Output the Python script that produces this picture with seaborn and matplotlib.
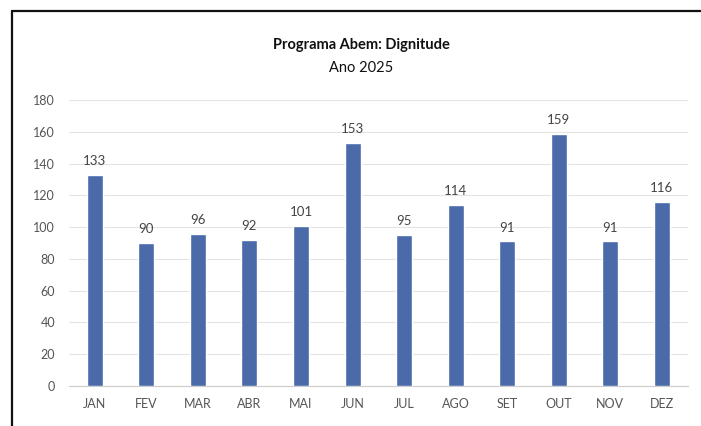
import matplotlib
matplotlib.use("Agg")
import matplotlib.pyplot as plt
import seaborn as sns
import pandas as pd
from matplotlib.lines import Line2D

# dados
meses = ['JAN', 'FEV', 'MAR', 'ABR', 'MAI', 'JUN', 'JUL', 'AGO', 'SET', 'OUT', 'NOV', 'DEZ']
valores = [133, 90, 96, 92, 101, 153, 95, 114, 91, 159, 91, 116]
y_ticks = [0, 20, 40, 60, 80, 100, 120, 140, 160, 180]

sns.set_theme(style='white')
plt.rcParams['font.family'] = ['Lato', 'DejaVu Sans']

df = pd.DataFrame({'mes': meses, 'valor': valores})

fig = plt.figure(figsize=(7.01, 4.26), dpi=100)
ax = fig.add_axes([0.0984, 0.0939, 0.8826, 0.671])

sns.barplot(data=df, x='mes', y='valor', color='#4a6aaa', width=0.31,
            saturation=1, ax=ax, zorder=3)

for i, v in enumerate(valores):
    ax.text(i, v + 5, str(v), ha='center', va='bottom', fontsize=9.5, color='#444444')

ax.set_ylim(0, 180)
ax.set_yticks(y_ticks)
ax.set_xlim(-0.5, len(meses) - 0.5)
ax.yaxis.grid(True, color='#e4e4e4', linewidth=0.8, zorder=0)
ax.set_xlabel('')
ax.set_ylabel('')
ax.tick_params(axis='both', length=0, labelsize=9, labelcolor='#555555')
ax.tick_params(axis='x', pad=9)
ax.tick_params(axis='y', pad=10)
for lado in ['top', 'right', 'left']:
    ax.spines[lado].set_visible(False)
ax.spines['bottom'].set_color('#cccccc')
ax.spines['bottom'].set_linewidth(0.8)

fig.text(0.515, 0.895, 'Programa Abem: Dignitude', ha='center', va='center',
         fontsize=10.5, fontweight='bold', color='#111111')
fig.text(0.515, 0.84, 'Ano 2025', ha='center', va='center',
         fontsize=10.5, color='#111111')

# moldura do recorte
fig.add_artist(Line2D([12 / 701, 12 / 701], [-0.05, 1 - 11 / 426], color='#111111', linewidth=1.6))
fig.add_artist(Line2D([12 / 701, 1.05], [1 - 11 / 426, 1 - 11 / 426], color='#111111', linewidth=1.6))

fig.savefig('out.png', dpi=100, facecolor='white')
